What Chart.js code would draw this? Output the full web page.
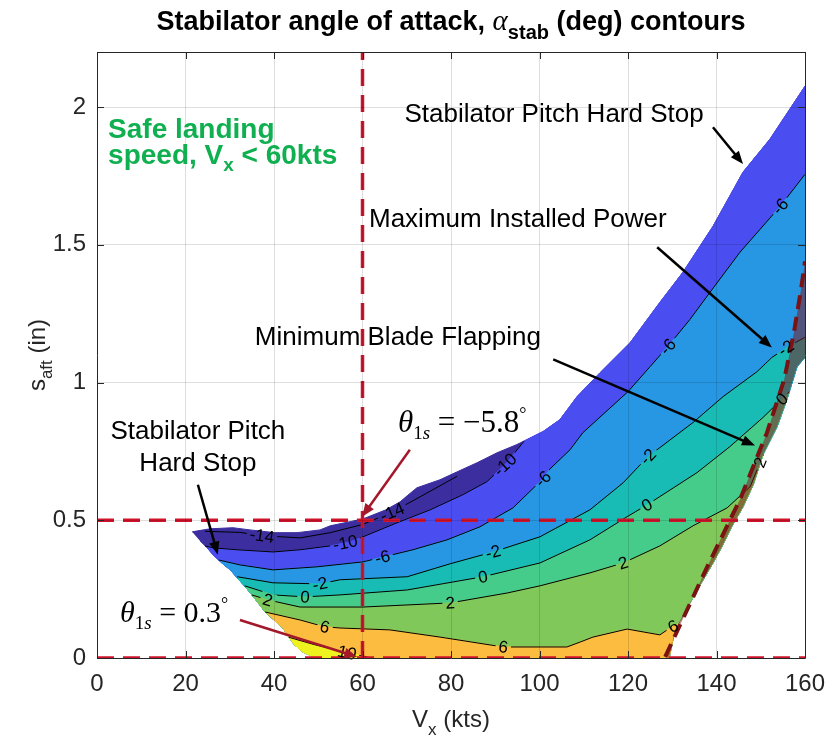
<!DOCTYPE html>
<html lang="en">
<head>
<meta charset="UTF-8">
<title>Stabilator angle of attack contours</title>
<script src="https://cdn.jsdelivr.net/npm/chart.js@4.4.1/dist/chart.umd.min.js"></script>
<style>
    html, body { margin: 0; padding: 0; background: #fff; }
    #wrap { width: 828px; height: 745px; }
</style>
</head>
<body>
<div id="wrap"><canvas id="chart" width="828" height="745"></canvas></div>
<script>
// axis ranges and ticks
const xRange = [0, 160];
const yRange = [0, 2.2];
const xTickValues = [0, 20, 40, 60, 80, 100, 120, 140, 160];
const yTickValues = [0, 0.5, 1, 1.5, 2];

// trim boundary of the solution space, [Vx, s_aft]
const hardStopEdge = [[21.5,0.458],[25.5,0.469],[30.7,0.473],[34.6,0.465],[40.2,0.455],[45.2,0.455],[50.4,0.465],[52.7,0.48],[57.2,0.495],[60.1,0.505],[65.3,0.538],[68.5,0.567],[70.1,0.589],[72.3,0.618],[77.5,0.647],[81.4,0.676],[85.9,0.709],[90.4,0.745],[94.9,0.775],[100.8,0.822],[104.6,0.865],[108.5,0.949],[113.7,1.036],[120.5,1.145],[127.2,1.291],[132.4,1.4],[139.2,1.567],[146.0,1.764],[152.1,1.884],[160,2.076]];
const powerEdge = [[160,1.091],[158.2,1.058],[155.9,0.938],[153.7,0.84],[150.5,0.738],[148.3,0.629],[146.0,0.549],[143.4,0.476],[141.2,0.404],[139.2,0.345],[136.3,0.265],[133.1,0.175],[130.6,0.102],[129.3,0]];
const leftEdge = [[49.5,0],[46.5,0.022],[44.5,0.05],[43.4,0.075],[42.0,0.109],[40.0,0.138],[38.0,0.167],[35.9,0.211],[33.7,0.255],[31.9,0.287],[30.1,0.32],[28.2,0.345],[26.2,0.375],[24.9,0.4],[23.3,0.425]];

// contour lines of alpha_stab (deg)
const lineM14 = [[24.4,0.46],[32.3,0.456],[37.3,0.444],[45.9,0.436],[52.7,0.455],[60.1,0.485],[66.7,0.53],[73.0,0.585],[81.4,0.66]];
const lineM10 = [[24.4,0.407],[26.2,0.4],[31.6,0.393],[39.8,0.385],[45.9,0.393],[52.7,0.407],[57.2,0.422],[60.1,0.44],[67.8,0.491],[75.3,0.538],[82.7,0.593],[88.1,0.64],[92.2,0.702],[96.5,0.787]];
const lineM6 = [[27.5,0.356],[32.3,0.338],[39.8,0.32],[49.7,0.331],[60.1,0.349],[71.4,0.393],[79.1,0.429],[86.5,0.476],[94.0,0.545],[100.8,0.651],[102.4,0.687],[106.9,0.756],[109.8,0.818],[120.0,0.967],[125.0,1.058],[129.0,1.131],[134.0,1.229],[138.5,1.327],[145.3,1.473],[154.4,1.64],[160,1.756]];
const lineM2 = [[31.7,0.295],[39.8,0.273],[50.4,0.269],[54.9,0.284],[70.1,0.295],[79.8,0.342],[89.5,0.385],[100.1,0.44],[111.4,0.538],[118.9,0.636],[124.5,0.731],[134.7,0.855],[141.5,0.949],[149.2,1.04],[152.5,1.091],[156.6,1.135],[160,1.164]];
const line0 = [[33.4,0.262],[39.8,0.229],[47.0,0.222],[54.9,0.229],[70.1,0.247],[87.2,0.295],[100.1,0.345],[111.4,0.429],[119.8,0.513],[124.3,0.556],[135.6,0.673],[143.0,0.767],[150.5,0.873],[156.5,0.967]];
const line2 = [[35.0,0.229],[38.6,0.211],[45.9,0.185],[60.1,0.185],[79.8,0.2],[92.7,0.236],[100.1,0.262],[111.4,0.309],[118.9,0.345],[127.2,0.407],[134.7,0.48],[142.4,0.545],[147.6,0.622],[149.2,0.684],[150.6,0.738]];
const line6 = [[38.0,0.167],[45.9,0.138],[51.5,0.113],[54.9,0.109],[66.2,0.102],[77.5,0.076],[91.8,0.04],[106.2,0.04],[109.2,0.058],[112.1,0.076],[119.8,0.105],[127.2,0.084],[129.5,0.109],[131.3,0.124]];
const line10 = [[43.4,0.075],[48.8,0.05],[53.3,0.032],[57.2,0.017],[62.1,0]];

const contourLevels = [-14, -10, -6, -2, 0, 2, 6, 10];
const contourLines = [lineM14, lineM10, lineM6, lineM2, line0, line2, line6, line10];

// inline contour labels: [level, Vx, s_aft]
const contourLabels = [
    [-14, 37.3, 0.446], [-14, 66.7, 0.53],
    [-10, 56.1, 0.418], [-10, 92.2, 0.702],
    [-6, 64.4, 0.375], [-6, 100.8, 0.65], [-6, 129.0, 1.131], [-6, 154.4, 1.64],
    [-2, 50.4, 0.27], [-2, 89.5, 0.385], [-2, 124.5, 0.731], [-2, 155.5, 1.13],
    [0, 47.0, 0.222], [0, 87.2, 0.295], [0, 124.3, 0.556], [0, 154.8, 0.94],
    [2, 38.6, 0.211], [2, 79.8, 0.2], [2, 118.9, 0.345], [2, 149.8, 0.71],
    [6, 51.5, 0.113], [6, 91.8, 0.04], [6, 130.2, 0.115],
    [10, 56.5, 0.02]
];

// maximum installed power limit
const powerLimit = [[128.4,0.004],[137.9,0.331],[145.3,0.575],[151.4,0.818],[155.3,1.011],[157.5,1.182],[159.1,1.338],[160,1.44]];

// reference lines
const landingSpeed = 60;
const sAftLimits = [0, 0.5];

const SANS = '"Liberation Sans", Arial, Helvetica, sans-serif';
const SERIF = '"Liberation Serif", "Times New Roman", serif';
const bandColors = ['#3c2e9f', '#4a4df0', '#2797e3', '#19bcb4', '#45cb8a', '#80c85a', '#fbbc3f', '#eef21e'];
const fillLevels = [-10, -6, -2, 0, 2, 6, 10];

// closed rim of the domain, walked clockwise from the left tip
const rim = [...hardStopEdge, ...powerEdge, ...leftEdge];
const YS = 62; // rough px-per-unit ratio between the axes, for distances

function segDist(p, a, b) {
    const ax = a[0], ay = a[1] * YS, bx = b[0], by = b[1] * YS;
    const qx = p[0], qy = p[1] * YS;
    const dx = bx - ax, dy = by - ay, L = dx * dx + dy * dy;
    let t = L ? ((qx - ax) * dx + (qy - ay) * dy) / L : 0;
    t = Math.max(0, Math.min(1, t));
    return Math.hypot(ax + t * dx - qx, ay + t * dy - qy);
}

function nearestRimSegment(p) {
    let best = 0, bestD = Infinity;
    for (let k = 0; k < rim.length; k++) {
        const d = segDist(p, rim[k], rim[(k + 1) % rim.length]);
        if (d < bestD) { bestD = d; best = k; }
    }
    return best;
}

// area of the domain on the high side of a contour (below it in s_aft)
function regionBelow(line) {
    const iR = nearestRimSegment(line[line.length - 1]);
    const iL = nearestRimSegment(line[0]);
    const pts = line.slice();
    let k = (iR + 1) % rim.length;
    for (;;) {
        pts.push(rim[k]);
        if (k === iL) break;
        k = (k + 1) % rim.length;
    }
    return pts;
}

const toXY = pts => pts.map(p => ({ x: p[0], y: p[1] }));

function polygon(pts, color, edge) {
    return {
        data: toXY(pts), fill: 'shape', backgroundColor: color,
        borderColor: edge || color, borderWidth: edge === 'transparent' ? 0 : 1,
        pointRadius: 0, tension: 0
    };
}

function polyline(pts, color, width, dash) {
    return {
        data: toXY(pts), fill: false, borderColor: color, borderWidth: width,
        borderDash: dash || [], pointRadius: 0, tension: 0
    };
}

const layers = [];
layers.push(polygon(rim, bandColors[0]));
fillLevels.forEach((lv, i) => {
    layers.push(polygon(regionBelow(contourLines[contourLevels.indexOf(lv)]), bandColors[i + 1]));
});
contourLines.forEach(line => {
    const ds = polyline(line, '#000', 1);
    ds.contour = true;
    layers.push(ds);
});
layers.push(polygon([...powerLimit, ...powerEdge], 'rgba(128,18,22,0.5)', 'transparent'));
layers.push(polyline(powerLimit, '#7a1414', 4, [14, 8]));
sAftLimits.forEach(s => layers.push(polyline([[xRange[0], s], [xRange[1], s]], '#d0142c', 3.5, [17, 9])));
layers.push(polyline([[landingSpeed, yRange[0]], [landingSpeed, yRange[1]]], '#d0142c', 3.5, [17, 9]));
layers.forEach((ds, i) => { ds.order = layers.length - i; });

function drawRuns(ctx, runs, x, y, align) {
    let total = 0;
    runs.forEach(r => { ctx.font = r[1]; total += ctx.measureText(r[0]).width; });
    let cx = align === 'center' ? x - total / 2 : x;
    runs.forEach(r => {
        ctx.font = r[1];
        ctx.fillText(r[0], cx, y + (r[2] || 0));
        cx += ctx.measureText(r[0]).width;
    });
}

function arrow(ctx, x0, y0, x1, y1, color, width, head) {
    const a = Math.atan2(y1 - y0, x1 - x0);
    const c = Math.cos(a), s = Math.sin(a);
    ctx.strokeStyle = color;
    ctx.fillStyle = color;
    ctx.lineWidth = width;
    ctx.beginPath();
    ctx.moveTo(x0, y0);
    ctx.lineTo(x1 - head * 0.8 * c, y1 - head * 0.8 * s);
    ctx.stroke();
    ctx.beginPath();
    ctx.moveTo(x1, y1);
    ctx.lineTo(x1 - head * c + head * 0.4 * s, y1 - head * s - head * 0.4 * c);
    ctx.lineTo(x1 - head * c - head * 0.4 * s, y1 - head * s + head * 0.4 * c);
    ctx.closePath();
    ctx.fill();
}

// label boxes along the contours, with gaps cut in the lines under them
function layoutLabels(chart) {
    const { x: xs, y: ys } = chart.scales;
    const ctx = chart.ctx;
    ctx.font = `17px ${SANS}`;
    return contourLabels.map(([lv, vx, vs]) => {
        const line = contourLines[contourLevels.indexOf(lv)].map(p => [xs.getPixelForValue(p[0]), ys.getPixelForValue(p[1])]);
        const px = xs.getPixelForValue(vx), py = ys.getPixelForValue(vs);
        let best = null, bestD = Infinity;
        for (let k = 0; k < line.length - 1; k++) {
            const [ax, ay] = line[k], [bx, by] = line[k + 1];
            const dx = bx - ax, dy = by - ay, L = dx * dx + dy * dy;
            let t = L ? ((px - ax) * dx + (py - ay) * dy) / L : 0;
            t = Math.max(0, Math.min(1, t));
            const qx = ax + t * dx, qy = ay + t * dy;
            const d = Math.hypot(qx - px, qy - py);
            if (d < bestD) { bestD = d; best = { x: qx, y: qy, ang: Math.atan2(dy, dx) }; }
        }
        let ang = best.ang;
        if (ang > Math.PI / 2) ang -= Math.PI;
        if (ang < -Math.PI / 2) ang += Math.PI;
        const text = String(lv);
        return { text, x: best.x, y: best.y, ang, w: ctx.measureText(text).width + 6, h: 15 };
    });
}

const decor = {
    id: 'decor',
    beforeDatasetsDraw(chart) {
        chart.$labels = layoutLabels(chart);
    },
    beforeDatasetDraw(chart, args) {
        if (!chart.data.datasets[args.index].contour) return;
        const ctx = chart.ctx;
        ctx.save();
        ctx.beginPath();
        ctx.rect(0, 0, chart.width, chart.height);
        chart.$labels.forEach(b => {
            const c = Math.cos(b.ang), s = Math.sin(b.ang);
            const hw = b.w / 2, hh = b.h / 2;
            const pts = [[-hw, -hh], [hw, -hh], [hw, hh], [-hw, hh]].map(([u, v]) => [b.x + u * c - v * s, b.y + u * s + v * c]);
            ctx.moveTo(pts[0][0], pts[0][1]);
            pts.slice(1).forEach(p => ctx.lineTo(p[0], p[1]));
            ctx.closePath();
        });
        ctx.clip('evenodd');
        ctx.beginPath();
    },
    afterDatasetDraw(chart, args) {
        if (chart.data.datasets[args.index].contour) chart.ctx.restore();
    },
    afterDatasetsDraw(chart) {
        const ctx = chart.ctx;
        ctx.save();
        ctx.fillStyle = '#000';
        ctx.font = `17px ${SANS}`;
        ctx.textAlign = 'center';
        ctx.textBaseline = 'middle';
        chart.$labels.forEach(b => {
            ctx.save();
            ctx.translate(b.x, b.y);
            ctx.rotate(b.ang);
            ctx.fillText(b.text, 0, 1);
            ctx.restore();
        });
        ctx.restore();
    },
    afterDraw(chart) {
        const ctx = chart.ctx;
        const { left, right, top, bottom } = chart.chartArea;
        const xs = chart.scales.x, ys = chart.scales.y;
        const X = v => xs.getPixelForValue(v), Y = v => ys.getPixelForValue(v);
        ctx.save();

        // box and inward ticks
        ctx.strokeStyle = '#262626';
        ctx.lineWidth = 1;
        ctx.beginPath();
        ctx.rect(Math.round(left) + 0.5, Math.round(top) + 0.5, Math.round(right - left), Math.round(bottom - top));
        xTickValues.forEach(v => {
            const x = Math.round(X(v)) + 0.5;
            ctx.moveTo(x, bottom); ctx.lineTo(x, bottom - 7);
            ctx.moveTo(x, top); ctx.lineTo(x, top + 7);
        });
        yTickValues.forEach(v => {
            const y = Math.round(Y(v)) + 0.5;
            ctx.moveTo(left, y); ctx.lineTo(left + 7, y);
            ctx.moveTo(right, y); ctx.lineTo(right - 7, y);
        });
        ctx.stroke();

        // title and axis titles
        ctx.fillStyle = '#000';
        ctx.textBaseline = 'alphabetic';
        drawRuns(ctx, [
            ['Stabilator angle of attack, ', `bold 27px ${SANS}`],
            ['\u03b1', `italic 29px ${SERIF}`],
            ['stab', `bold 20px ${SANS}`, 9],
            [' (deg) contours', `bold 27px ${SANS}`]
        ], (left + right) / 2, 30, 'center');

        ctx.fillStyle = '#262626';
        drawRuns(ctx, [
            ['V', `24px ${SANS}`], ['x', `17px ${SANS}`, 8], [' (kts)', `24px ${SANS}`]
        ], (left + right) / 2, 727, 'center');
        ctx.save();
        ctx.translate(45, (top + bottom) / 2);
        ctx.rotate(-Math.PI / 2);
        drawRuns(ctx, [
            ['s', `24px ${SANS}`], ['aft', `17px ${SANS}`, 7], [' (in)', `24px ${SANS}`]
        ], 0, 0, 'center');
        ctx.restore();

        // safe landing note
        ctx.fillStyle = '#10b050';
        drawRuns(ctx, [['Safe landing', `bold 28px ${SANS}`]], X(2.5), Y(1.887), 'left');
        drawRuns(ctx, [
            ['speed, V', `bold 28px ${SANS}`], ['x', `bold 19px ${SANS}`, 7], [' < 60kts', `bold 28px ${SANS}`]
        ], X(2.5), Y(1.793), 'left');

        // boundary callouts
        ctx.fillStyle = '#000';
        ctx.textBaseline = 'middle';
        ctx.textAlign = 'center';
        ctx.font = `26px ${SANS}`;
        ctx.fillText('Stabilator Pitch Hard Stop', X(103.3), Y(1.971));
        ctx.fillText('Maximum Installed Power', X(95.1), Y(1.589));
        ctx.fillText('Minimum Blade Flapping', X(68.0), Y(1.164));
        ctx.fillText('Stabilator Pitch', X(22.8), Y(0.822));
        ctx.fillText('Hard Stop', X(22.8), Y(0.705));
        ctx.textAlign = 'left';
        ctx.textBaseline = 'alphabetic';

        arrow(ctx, X(139.2), Y(1.927), X(146.0), Y(1.793), '#000', 2.5, 13);
        arrow(ctx, X(126.6), Y(1.491), X(152.5), Y(1.127), '#000', 2.5, 13);
        arrow(ctx, X(103.1), Y(1.084), X(148.7), Y(0.771), '#000', 2.5, 13);
        arrow(ctx, X(22.8), Y(0.629), X(27.3), Y(0.375), '#000', 2.5, 13);

        // cyclic pitch values at the corners
        ctx.fillStyle = '#000';
        drawRuns(ctx, [
            ['\u03b8', `italic 31px ${SERIF}`], ['1', `19px ${SERIF}`, 7], ['s', `italic 19px ${SERIF}`, 7],
            [' = \u22125.8', `31px ${SERIF}`], ['\u00b0', `18px ${SERIF}`, -12]
        ], X(68.0), Y(0.822), 'left');
        drawRuns(ctx, [
            ['\u03b8', `italic 30px ${SERIF}`], ['1', `19px ${SERIF}`, 7], ['s', `italic 19px ${SERIF}`, 7],
            [' = 0.3', `30px ${SERIF}`], ['\u00b0', `18px ${SERIF}`, -12]
        ], X(5.2), Y(0.131), 'left');
        arrow(ctx, X(70.7), Y(0.756), X(59.9), Y(0.513), '#a3182a', 2.5, 13);
        arrow(ctx, X(32.3), Y(0.138), X(58.8), Y(0.004), '#a3182a', 2.5, 13);

        ctx.restore();
    }
};

new Chart(document.getElementById('chart'), {
    type: 'line',
    data: { datasets: layers },
    options: {
        responsive: false,
        animation: false,
        events: [],
        layout: { padding: { top: 52, right: 23, left: 0, bottom: 0 } },
        plugins: { legend: { display: false }, tooltip: { enabled: false } },
        scales: {
            x: {
                type: 'linear', min: xRange[0], max: xRange[1],
                afterBuildTicks: s => { s.ticks = xTickValues.map(v => ({ value: v })); },
                afterFit: s => { s.height = 87; s.paddingLeft = 0; s.paddingRight = 0; },
                grid: { color: 'rgba(0,0,0,0.13)', drawTicks: false, z: 1 },
                border: { display: false },
                ticks: { color: '#262626', padding: 12, font: { family: SANS, size: 24 }, maxRotation: 0, callback: v => String(v) }
            },
            y: {
                type: 'linear', min: yRange[0], max: yRange[1],
                afterBuildTicks: s => { s.ticks = yTickValues.map(v => ({ value: v })); },
                afterFit: s => { s.width = 97; s.paddingTop = 0; s.paddingBottom = 0; },
                grid: { color: 'rgba(0,0,0,0.13)', drawTicks: false, z: 1 },
                border: { display: false },
                ticks: { color: '#262626', padding: 11, font: { family: SANS, size: 24 }, callback: v => String(v) }
            }
        }
    },
    plugins: [decor]
});
</script>
</body>
</html>
